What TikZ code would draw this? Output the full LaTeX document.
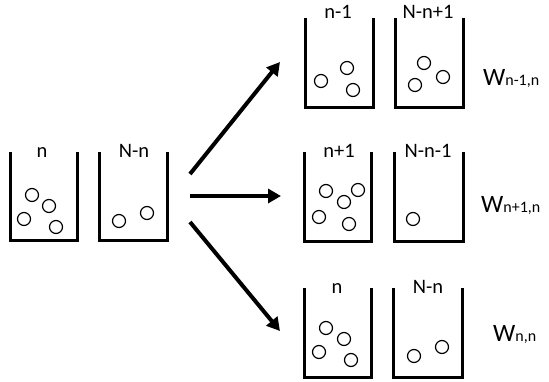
\documentclass[tikz,border=0pt]{standalone}
\usepackage{fontspec}
\setmainfont{Carlito}
\usetikzlibrary{arrows.meta}
\begin{document}
\begin{tikzpicture}[x=1pt,y=-1pt,
  wall/.style={line width=3pt},
  ball/.style={line width=1.2pt},
  arr/.style={line width=4pt,-{Triangle[length=13pt,width=14pt]}},
  lab/.style={anchor=base,inner sep=0pt,font=\fontsize{20.5}{22}\selectfont},
  wlab/.style={anchor=base west,inner sep=0pt,font=\fontsize{25}{27}\selectfont}]
\useasboundingbox (0,0) rectangle (549,381);
\newcommand\beaker[4]{\draw[wall] (#1,#3) -- (#1,#4) -- (#2,#4) -- (#2,#3);}
\newcommand\ballat[2]{\draw[ball] (#1,#2) circle[radius=6.5];}
\newcommand\smallsub[1]{{\fontsize{16}{18}\selectfont #1}}
% left group
\beaker{10}{77}{152}{240}
\beaker{99}{167}{152}{240}
\node[lab] (l1) at (42,157) {n};
\node[lab] (l2) at (134,157) {N-n};
\ballat{32}{195}\ballat{49}{206}\ballat{24}{219}\ballat{56}{227}
\ballat{119}{221}\ballat{147}{213}
% top group
\beaker{305}{373}{18}{107}
\beaker{395}{463}{18}{107}
\node[lab] (t1) at (338,18) {n-1};
\node[lab] (t2) at (428,18) {N-n+1};
\ballat{321}{81}\ballat{347}{68}\ballat{353}{90}
\ballat{424}{63}\ballat{415}{85}\ballat{443}{77}
\node[wlab] (w1) at (483,85) {W\smallsub{n-1,n}};
% middle group
\beaker{304}{371}{152}{241}
\beaker{394}{463}{152}{241}
\node[lab] (m1) at (339,157) {n+1};
\node[lab] (m2) at (428,157) {N-n-1};
\ballat{326}{191}\ballat{358}{190}\ballat{344}{202}\ballat{319}{217}\ballat{349}{224}
\ballat{413}{219}
\node[wlab] (w2) at (481,212) {W\smallsub{n+1,n}};
% bottom group
\beaker{304}{371}{288}{377}
\beaker{393}{462}{288}{377}
\node[lab] (b1) at (337,293) {n};
\node[lab] (b2) at (428,293) {N-n};
\ballat{326}{328}\ballat{344}{339}\ballat{319}{352}\ballat{351}{360}
\ballat{414}{356}\ballat{442}{347}
\node[wlab] (w3) at (493,341) {W\smallsub{n,n}};
% arrows
\coordinate (s1) at (190,174); \coordinate (e1) at (280,62);
\coordinate (s2) at (190,196); \coordinate (e2) at (281,196);
\coordinate (s3) at (190,222); \coordinate (e3) at (280,331);
\draw[arr] (s1) -- (e1);
\draw[arr] (s2) -- (e2);
\draw[arr] (s3) -- (e3);
\end{tikzpicture}
\end{document}
